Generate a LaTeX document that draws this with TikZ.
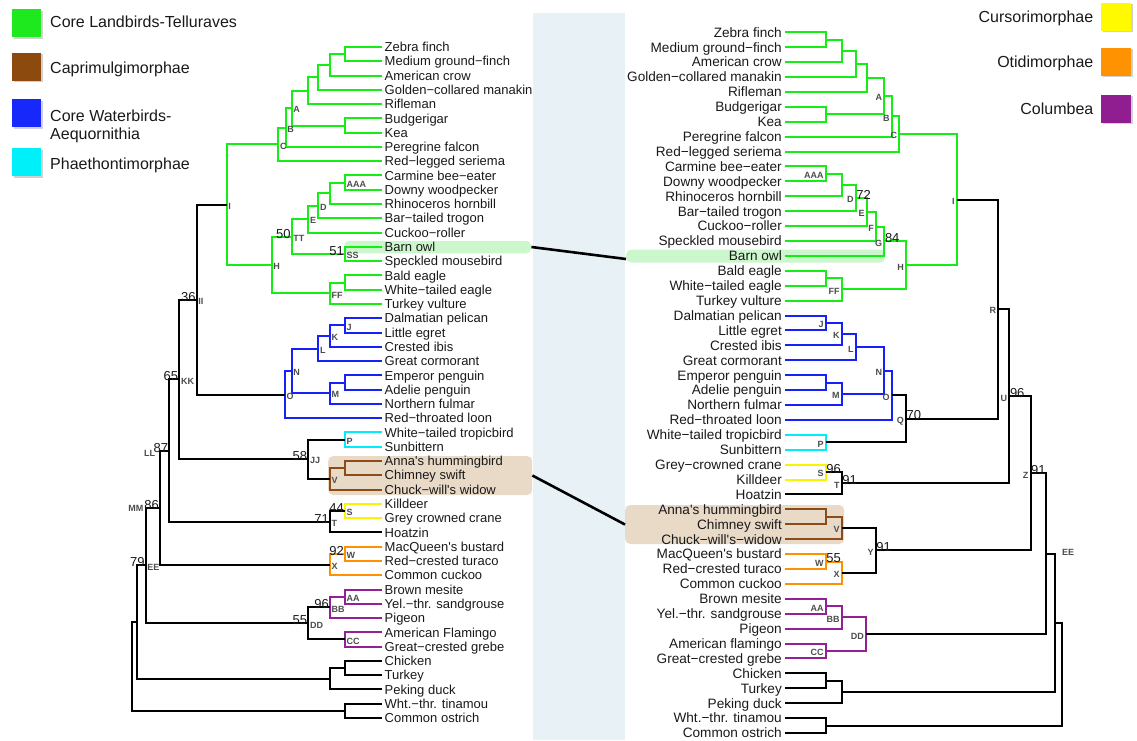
\documentclass[tikz,border=0pt]{standalone}
\usepackage{fontspec}
\setmainfont{Liberation Sans}
\usetikzlibrary{calc}

% clade colours
\definecolor{cgreen}{RGB}{20,238,20}
\definecolor{cblue}{RGB}{22,32,250}
\definecolor{ccyan}{RGB}{0,238,252}
\definecolor{cbrown}{RGB}{140,76,26}
\definecolor{cyellow}{RGB}{250,244,0}
\definecolor{corange}{RGB}{255,145,0}
\definecolor{cpurple}{RGB}{150,30,150}
% legend swatches
\definecolor{sgreen}{RGB}{30,232,30}
\definecolor{sbrown}{RGB}{140,74,14}
\definecolor{sblue}{RGB}{22,40,250}
\definecolor{scyan}{RGB}{0,240,250}
\definecolor{syellow}{RGB}{255,250,0}
\definecolor{sorange}{RGB}{255,146,0}
\definecolor{spurple}{RGB}{145,30,145}
% backgrounds
\definecolor{bandblue}{RGB}{232,242,246}
\definecolor{owlpill}{RGB}{204,246,204}
\definecolor{cappill}{RGB}{233,218,200}
\definecolor{inktext}{RGB}{25,25,25}

% leaves: left tree (rows spaced 14.28) and right tree (rows spaced 14.91)
\newcommand\leafL[3]{%
  \coordinate (l-#1) at (382,{47+14.2766*#2});
  \node[leafl] at (l-#1) {#3};}
\newcommand\leafR[3]{%
  \coordinate (r-#1) at (785,{32.3+14.909*#2});
  \node[leafr] at (r-#1) {#3};}
% internal node: name, x, two children, colour of its bracket
\newcommand\jn[5]{%
  \path let \p1=(#3), \p2=(#4) in (#2pt,{0.5*(\y1+\y2)}) coordinate (#1);
  \draw[tree,#5] (#3) -- (#1 |- #3) -- (#1 |- #4) -- (#4);}
% node letters and support values
\newcommand\labL[2]{\node[nlab,anchor=west] at ([shift={(1.5pt,-1.5pt)}]#1) {#2};}
\newcommand\labR[2]{\node[nlab,anchor=east] at ([shift={(-2pt,-1.5pt)}]#1) {#2};}
\newcommand\supL[2]{\node[sup,anchor=base east] at ([shift={(-1pt,-1.5pt)}]#1) {#2};}
\newcommand\supR[2]{\node[sup,anchor=base west] at ([shift={(0.5pt,-1pt)}]#1) {#2};}

\begin{document}
\begin{tikzpicture}[x=1pt,y=-1pt,
  tree/.style={line width=2pt,line join=miter},
  leafl/.style={anchor=west,inner xsep=2.5pt,inner ysep=0pt,text height=9.3pt,text depth=0pt,
    text=inktext,font=\fontsize{13}{13}\selectfont},
  leafr/.style={anchor=east,inner xsep=3pt,inner ysep=0pt,text height=9.7pt,text depth=0pt,
    text=inktext,font=\fontsize{13.6}{13.6}\selectfont},
  nlab/.style={inner sep=0pt,text height=6.5pt,text depth=0pt,text=black!70,
    font=\bfseries\fontsize{9}{9}\selectfont},
  sup/.style={inner sep=0pt,text=inktext,font=\fontsize{13}{13}\selectfont},
  legtext/.style={inner sep=0pt,text height=11.5pt,text depth=0pt,text=inktext,
    font=\fontsize{16}{16}\selectfont},
  swatch/.style={minimum width=29pt,minimum height=28pt,inner sep=0pt},
  pill/.style={rounded corners=5pt,inner sep=0pt},
  link/.style={line width=2.6pt,black}]
\useasboundingbox (0,0) rectangle (1137,740);

% central band
\fill[bandblue] (533,13) rectangle (625,740);

% highlighted taxa
\node[pill,fill=owlpill,minimum width=187pt,minimum height=12.5pt,anchor=west] (lowlbox) at (344,247) {};
\node[pill,fill=owlpill,minimum width=259pt,minimum height=13pt,anchor=west] (rowlbox) at (626,256) {};
\node[pill,fill=cappill,minimum width=204pt,minimum height=39pt,anchor=west] (lcapbox) at (328,475.5) {};
\node[pill,fill=cappill,minimum width=219pt,minimum height=39pt,anchor=west] (rcapbox) at (625,524.5) {};

% ---------------- left tree: leaves ----------------
\leafL{zebra}{0}{Zebra finch}
\leafL{mgf}{1}{Medium ground−finch}
\leafL{crow}{2}{American crow}
\leafL{manakin}{3}{Golden−collared manakin}
\leafL{rifleman}{4}{Rifleman}
\leafL{budgie}{5}{Budgerigar}
\leafL{kea}{6}{Kea}
\leafL{falcon}{7}{Peregrine falcon}
\leafL{seriema}{8}{Red−legged seriema}
\leafL{beeeater}{9}{Carmine bee−eater}
\leafL{woodpecker}{10}{Downy woodpecker}
\leafL{hornbill}{11}{Rhinoceros hornbill}
\leafL{trogon}{12}{Bar−tailed trogon}
\leafL{roller}{13}{Cuckoo−roller}
\leafL{owl}{14}{Barn owl}
\leafL{mousebird}{15}{Speckled mousebird}
\leafL{baldeagle}{16}{Bald eagle}
\leafL{wteagle}{17}{White−tailed eagle}
\leafL{vulture}{18}{Turkey vulture}
\leafL{pelican}{19}{Dalmatian pelican}
\leafL{egret}{20}{Little egret}
\leafL{ibis}{21}{Crested ibis}
\leafL{cormorant}{22}{Great cormorant}
\leafL{emperor}{23}{Emperor penguin}
\leafL{adelie}{24}{Adelie penguin}
\leafL{fulmar}{25}{Northern fulmar}
\leafL{loon}{26}{Red−throated loon}
\leafL{tropicbird}{27}{White−tailed tropicbird}
\leafL{sunbittern}{28}{Sunbittern}
\leafL{hummingbird}{29}{Anna\textquotesingle s hummingbird}
\leafL{swift}{30}{Chimney swift}
\leafL{nightjar}{31}{Chuck−will\textquotesingle s widow}
\leafL{killdeer}{32}{Killdeer}
\leafL{crane}{33}{Grey crowned crane}
\leafL{hoatzin}{34}{Hoatzin}
\leafL{bustard}{35}{MacQueen\textquotesingle s bustard}
\leafL{turaco}{36}{Red−crested turaco}
\leafL{cuckoo}{37}{Common cuckoo}
\leafL{mesite}{38}{Brown mesite}
\leafL{sandgrouse}{39}{Yel.−thr. sandgrouse}
\leafL{pigeon}{40}{Pigeon}
\leafL{flamingo}{41}{American Flamingo}
\leafL{grebe}{42}{Great−crested grebe}
\leafL{chicken}{43}{Chicken}
\leafL{turkey}{44}{Turkey}
\leafL{duck}{45}{Peking duck}
\leafL{tinamou}{46}{Wht.−thr. tinamou}
\leafL{ostrich}{47}{Common ostrich}

% ---------------- left tree: brackets ----------------
\jn{lzm}{345}{l-zebra}{l-mgf}{cgreen}
\jn{lcr}{330}{lzm}{l-crow}{cgreen}
\jn{lmn}{318.3}{lcr}{l-manakin}{cgreen}
\jn{lrf}{308.3}{lmn}{l-rifleman}{cgreen}
\jn{lbk}{345}{l-budgie}{l-kea}{cgreen}
\jn{lA}{291.7}{lrf}{lbk}{cgreen}
\jn{lB}{285.7}{lA}{l-falcon}{cgreen}
\jn{lC}{278.3}{lB}{l-seriema}{cgreen}
\jn{lAAA}{345}{l-beeeater}{l-woodpecker}{cgreen}
\jn{lhb}{330}{lAAA}{l-hornbill}{cgreen}
\jn{lD}{318.3}{lhb}{l-trogon}{cgreen}
\jn{lE}{308.3}{lD}{l-roller}{cgreen}
\jn{lSS}{345}{l-owl}{l-mousebird}{cgreen}
\jn{lTT}{291.7}{lE}{lSS}{cgreen}
\jn{lea}{345}{l-baldeagle}{l-wteagle}{cgreen}
\jn{lFF}{330}{lea}{l-vulture}{cgreen}
\jn{lH}{271.7}{lTT}{lFF}{cgreen}
\jn{lI}{226.7}{lC}{lH}{cgreen}
\jn{lJ}{345}{l-pelican}{l-egret}{cblue}
\jn{lK}{330}{lJ}{l-ibis}{cblue}
\jn{lL}{318.3}{lK}{l-cormorant}{cblue}
\jn{lpg}{345}{l-emperor}{l-adelie}{cblue}
\jn{lM}{330}{lpg}{l-fulmar}{cblue}
\jn{lN}{291.7}{lL}{lM}{cblue}
\jn{lO}{285}{lN}{l-loon}{cblue}
\jn{lII}{196.7}{lI}{lO}{black}
\jn{lP}{345}{l-tropicbird}{l-sunbittern}{ccyan}
\jn{lhs}{345}{l-hummingbird}{l-swift}{cbrown}
\jn{lV}{330}{lhs}{l-nightjar}{cbrown}
\jn{lJJ}{308.3}{lP}{lV}{black}
\jn{lKK}{179.3}{lII}{lJJ}{black}
\jn{lS}{345}{l-killdeer}{l-crane}{cyellow}
\jn{lT}{330}{lS}{l-hoatzin}{black}
\jn{lLL}{169.3}{lKK}{lT}{black}
\jn{lW}{345}{l-bustard}{l-turaco}{corange}
\jn{lX}{330}{lW}{l-cuckoo}{corange}
\jn{lMM}{160}{lLL}{lX}{black}
\jn{lAA}{345}{l-mesite}{l-sandgrouse}{cpurple}
\jn{lBB}{330}{lAA}{l-pigeon}{cpurple}
\jn{lCC}{345}{l-flamingo}{l-grebe}{cpurple}
\jn{lDD}{308.3}{lBB}{lCC}{black}
\jn{lEE}{145.7}{lMM}{lDD}{black}
\jn{lct}{345}{l-chicken}{l-turkey}{black}
\jn{lgal}{330}{lct}{l-duck}{black}
\jn{lneo}{137.3}{lEE}{lgal}{black}
\jn{lpal}{345}{l-tinamou}{l-ostrich}{black}
\jn{lroot}{132.3}{lneo}{lpal}{black}

% left node letters
\labL{lA}{A}\labL{lB}{B}\labL{lC}{C}\labL{lI}{I}
\labL{lAAA}{AAA}\labL{lD}{D}\labL{lE}{E}\labL{lTT}{TT}\labL{lSS}{SS}
\labL{lH}{H}\labL{lFF}{FF}
\labL{lJ}{J}\labL{lK}{K}\labL{lL}{L}\labL{lM}{M}\labL{lN}{N}\labL{lO}{O}
\labL{lII}{II}\labL{lKK}{KK}\labL{lP}{P}\labL{lJJ}{JJ}\labL{lV}{V}
\labL{lS}{S}\labL{lT}{T}\labL{lW}{W}\labL{lX}{X}
\labL{lAA}{AA}\labL{lBB}{BB}\labL{lCC}{CC}\labL{lDD}{DD}\labL{lEE}{EE}
\node[nlab,anchor=east] at ([shift={(-14pt,-2.5pt)}]lLL) {LL};
\node[nlab,anchor=east] at ([shift={(-16.5pt,-1pt)}]lMM) {MM};
% left support values
\supL{lTT}{50}\supL{lSS}{51}\supL{lII}{36}\supL{lKK}{65}\supL{lLL}{87}
\supL{lMM}{86}\supL{lEE}{79}\supL{lJJ}{58}\supL{lS}{44}\supL{lT}{71}
\supL{lW}{92}\supL{lBB}{96}\supL{lDD}{55}

% ---------------- right tree: leaves ----------------
\leafR{zebra}{0}{Zebra finch}
\leafR{mgf}{1}{Medium ground−finch}
\leafR{crow}{2}{American crow}
\leafR{manakin}{3}{Golden−collared manakin}
\leafR{rifleman}{4}{Rifleman}
\leafR{budgie}{5}{Budgerigar}
\leafR{kea}{6}{Kea}
\leafR{falcon}{7}{Peregrine falcon}
\leafR{seriema}{8}{Red−legged seriema}
\leafR{beeeater}{9}{Carmine bee−eater}
\leafR{woodpecker}{10}{Downy woodpecker}
\leafR{hornbill}{11}{Rhinoceros hornbill}
\leafR{trogon}{12}{Bar−tailed trogon}
\leafR{roller}{13}{Cuckoo−roller}
\leafR{mousebird}{14}{Speckled mousebird}
\leafR{owl}{15}{Barn owl}
\leafR{baldeagle}{16}{Bald eagle}
\leafR{wteagle}{17}{White−tailed eagle}
\leafR{vulture}{18}{Turkey vulture}
\leafR{pelican}{19}{Dalmatian pelican}
\leafR{egret}{20}{Little egret}
\leafR{ibis}{21}{Crested ibis}
\leafR{cormorant}{22}{Great cormorant}
\leafR{emperor}{23}{Emperor penguin}
\leafR{adelie}{24}{Adelie penguin}
\leafR{fulmar}{25}{Northern fulmar}
\leafR{loon}{26}{Red−throated loon}
\leafR{tropicbird}{27}{White−tailed tropicbird}
\leafR{sunbittern}{28}{Sunbittern}
\leafR{crane}{29}{Grey−crowned crane}
\leafR{killdeer}{30}{Killdeer}
\leafR{hoatzin}{31}{Hoatzin}
\leafR{hummingbird}{32}{Anna\textquotesingle s hummingbird}
\leafR{swift}{33}{Chimney swift}
\leafR{nightjar}{34}{Chuck−will\textquotesingle s−widow}
\leafR{bustard}{35}{MacQueen\textquotesingle s bustard}
\leafR{turaco}{36}{Red−crested turaco}
\leafR{cuckoo}{37}{Common cuckoo}
\leafR{mesite}{38}{Brown mesite}
\leafR{sandgrouse}{39}{Yel.−thr. sandgrouse}
\leafR{pigeon}{40}{Pigeon}
\leafR{flamingo}{41}{American flamingo}
\leafR{grebe}{42}{Great−crested grebe}
\leafR{chicken}{43}{Chicken}
\leafR{turkey}{44}{Turkey}
\leafR{duck}{45}{Peking duck}
\leafR{tinamou}{46}{Wht.−thr. tinamou}
\leafR{ostrich}{47}{Common ostrich}

% ---------------- right tree: brackets ----------------
\jn{rzm}{825.7}{r-zebra}{r-mgf}{cgreen}
\jn{rcr}{841.7}{rzm}{r-crow}{cgreen}
\jn{rmn}{855.7}{rcr}{r-manakin}{cgreen}
\jn{rrf}{866.7}{rmn}{r-rifleman}{cgreen}
\jn{rbk}{825.7}{r-budgie}{r-kea}{cgreen}
\jn{rA}{884.3}{rrf}{rbk}{cgreen}
\jn{rB}{891.7}{rA}{r-falcon}{cgreen}
\jn{rC}{899.3}{rB}{r-seriema}{cgreen}
\jn{rAAA}{825.7}{r-beeeater}{r-woodpecker}{cgreen}
\jn{rhb}{841.7}{rAAA}{r-hornbill}{cgreen}
\jn{rD}{855.7}{rhb}{r-trogon}{cgreen}
\jn{rE}{866.7}{rD}{r-roller}{cgreen}
\jn{rF}{876}{rE}{r-mousebird}{cgreen}
\jn{rG}{884.3}{rF}{r-owl}{cgreen}
\jn{rea}{825.7}{r-baldeagle}{r-wteagle}{cgreen}
\jn{rFF}{841.7}{rea}{r-vulture}{cgreen}
\jn{rH}{906}{rG}{rFF}{cgreen}
\jn{rI}{956.7}{rC}{rH}{cgreen}
\jn{rJ}{825.7}{r-pelican}{r-egret}{cblue}
\jn{rK}{841.7}{rJ}{r-ibis}{cblue}
\jn{rL}{855.7}{rK}{r-cormorant}{cblue}
\jn{rpg}{825.7}{r-emperor}{r-adelie}{cblue}
\jn{rM}{841.7}{rpg}{r-fulmar}{cblue}
\jn{rN}{884.3}{rL}{rM}{cblue}
\jn{rO}{891.7}{rN}{r-loon}{cblue}
\jn{rP}{825.7}{r-tropicbird}{r-sunbittern}{ccyan}
\jn{rQ}{906}{rO}{rP}{black}
\jn{rR}{998.3}{rI}{rQ}{black}
\jn{rS}{825.7}{r-crane}{r-killdeer}{cyellow}
\jn{rT}{841.7}{rS}{r-hoatzin}{black}
\jn{rU}{1009.3}{rR}{rT}{black}
\jn{rhs}{825.7}{r-hummingbird}{r-swift}{cbrown}
\jn{rV}{841.7}{rhs}{r-nightjar}{cbrown}
\jn{rW}{825.7}{r-bustard}{r-turaco}{corange}
\jn{rX}{841.7}{rW}{r-cuckoo}{corange}
\jn{rY}{875.7}{rV}{rX}{black}
\jn{rZ}{1030.5}{rU}{rY}{black}
\jn{rAA}{825.7}{r-mesite}{r-sandgrouse}{cpurple}
\jn{rBB}{841.7}{rAA}{r-pigeon}{cpurple}
\jn{rCC}{825.7}{r-flamingo}{r-grebe}{cpurple}
\jn{rDD}{866}{rBB}{rCC}{cpurple}
\jn{rEE}{1046}{rZ}{rDD}{black}
\jn{rct}{825.7}{r-chicken}{r-turkey}{black}
\jn{rgal}{841.7}{rct}{r-duck}{black}
\jn{rneo}{1055}{rEE}{rgal}{black}
\jn{rpal}{825.7}{r-tinamou}{r-ostrich}{black}
\jn{rroot}{1061.5}{rneo}{rpal}{black}

% right node letters
\labR{rA}{A}\labR{rB}{B}\labR{rC}{C}\labR{rI}{I}
\labR{rAAA}{AAA}\labR{rD}{D}\labR{rE}{E}\labR{rF}{F}\labR{rG}{G}
\labR{rH}{H}\labR{rFF}{FF}
\labR{rJ}{J}\labR{rK}{K}\labR{rL}{L}\labR{rM}{M}\labR{rN}{N}\labR{rO}{O}
\labR{rP}{P}\labR{rQ}{Q}\labR{rR}{R}\labR{rS}{S}\labR{rT}{T}\labR{rU}{U}
\labR{rV}{V}\labR{rW}{W}\labR{rX}{X}\labR{rY}{Y}\labR{rZ}{Z}
\labR{rAA}{AA}\labR{rBB}{BB}\labR{rCC}{CC}\labR{rDD}{DD}
\node[nlab,anchor=west] at ([shift={(16pt,1.5pt)}]rEE) {EE};
% right support values
\supR{rD}{72}\supR{rG}{84}\supR{rQ}{70}\supR{rS}{96}\supR{rT}{91}
\supR{rU}{96}\supR{rZ}{91}\supR{rY}{91}\supR{rW}{55}

% links between the two placements
\draw[link] (lowlbox.east) -- ([yshift=-3pt]rowlbox.west);
\draw[link] (lcapbox.east) -- (rcapbox.west);

% ---------------- legends ----------------
\foreach \nm/\col/\yy in {lg/sgreen/23, lb/sbrown/66.5, lw/sblue/113, lc/scyan/162}{
  \fill[black!18] (13.5,\yy-12.5) rectangle (43,\yy+15.5);
  \node[swatch,fill=\col] (\nm) at (26.5,\yy) {};
}
\node[legtext,anchor=west] (lgt) at (50,22) {Core Landbirds-Telluraves};
\node[legtext,anchor=west] (lbt) at (50,67.5) {Caprimulgimorphae};
\node[legtext,anchor=west] (lwt) at (50,116) {Core Waterbirds-};
\node[legtext,anchor=west] (lwt2) at (50,134) {Aequornithia};
\node[legtext,anchor=west] (lct) at (50,164) {Phaethontimorphae};

\foreach \nm/\col/\yy in {ry/syellow/16.5, ro/sorange/61.5, rp/spurple/108.5}{
  \fill[black!18] (1102.5,\yy-12.5) rectangle (1132.5,\yy+15.5);
  \node[swatch,minimum width=30pt,fill=\col] (\nm) at (1116,\yy) {};
}
\node[legtext,anchor=east] (ryt) at (1093.5,16.7) {Cursorimorphae};
\node[legtext,anchor=east] (rot) at (1093.5,62) {Otidimorphae};
\node[legtext,anchor=east] (rpt) at (1093.5,109) {Columbea};
\end{tikzpicture}
\end{document}
